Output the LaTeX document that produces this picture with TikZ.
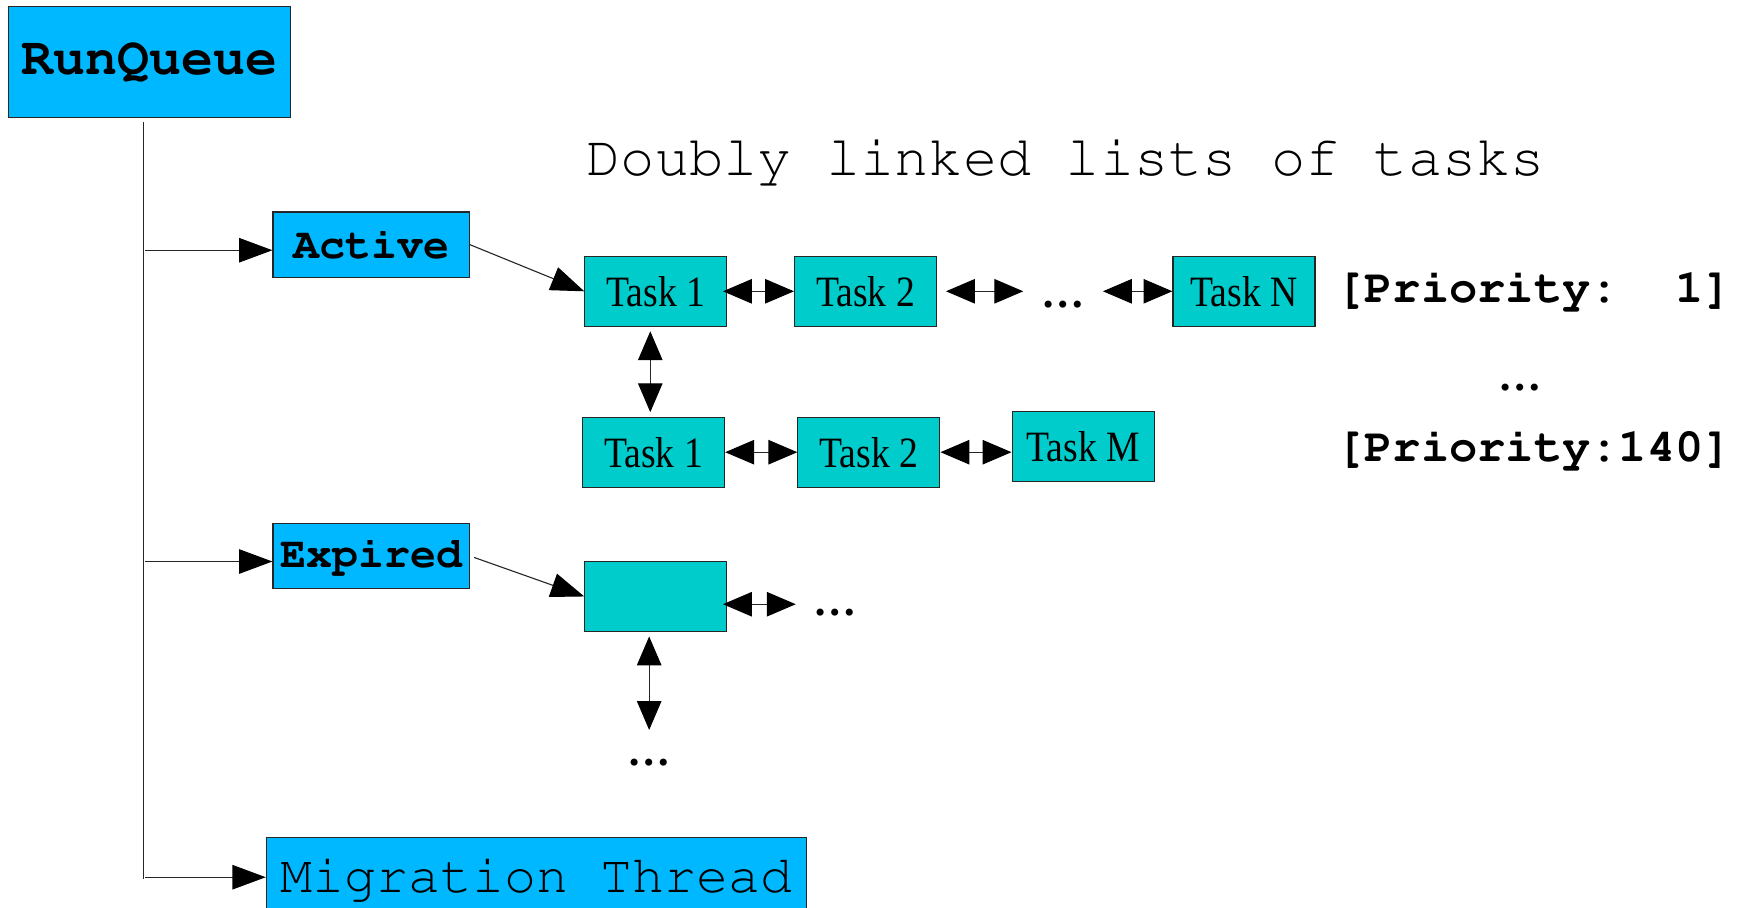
\documentclass[tikz,border=0pt]{standalone}
\usepackage[T1]{fontenc}
\usepackage{fontspec}
\setmainfont{Liberation Serif}
\newfontfamily\taskfont[FakeStretch=0.87]{Liberation Serif}
\newcommand\courfont{\fontencoding{T1}\fontfamily{pcr}\selectfont}
\definecolor{rqblue}{RGB}{0,184,255}
\definecolor{taskcyan}{RGB}{0,204,204}
\usetikzlibrary{positioning,calc,arrows.meta}

\begin{document}
\begin{tikzpicture}
    [x=0.5pt,y=-0.5pt,
      qbox/.style={rectangle,draw=black!85,fill=rqblue,line width=0.5pt,inner sep=0pt},
      task/.style={rectangle,draw=black!85,fill=taskcyan,line width=0.5pt,inner sep=0pt,
        minimum width=64pt,minimum height=31.5pt,font=\taskfont\fontsize{19.5}{20}\selectfont},
      elide/.style={inner xsep=8pt,inner ysep=0pt,anchor=base,font=\bfseries\fontsize{19.5}{20}\selectfont},
      prio/.style={anchor=base west,inner sep=0pt,font=\courfont\bfseries\fontsize{21.2}{22}\selectfont},
      link/.style={black!85,line width=0.5pt,-{Triangle[length=15pt,width=11pt,color=black]}},
      dlink/.style={black!85,line width=0.5pt,
        {Triangle[length=13pt,width=11pt,color=black]}-{Triangle[length=13pt,width=11pt,color=black]}}]

  \useasboundingbox (0,0) rectangle (1568,818);

  \node [qbox,minimum width=127pt,minimum height=50pt,
    font=\courfont\bfseries\fontsize{24}{24}\selectfont] (rq) at (135,56) {RunQueue};
  \node [qbox,minimum width=88.5pt,minimum height=29.5pt,
    font=\courfont\bfseries\fontsize{19.5}{20}\selectfont] (act) at (334.5,220.5) {Active};
  \node [qbox,minimum width=88.5pt,minimum height=29pt,
    font=\courfont\bfseries\fontsize{19.5}{20}\selectfont] (exp) at (334.5,501) {Expired};
  \node [qbox,minimum width=243.5pt,minimum height=37.5pt,
    font=\courfont\fontsize{24}{24}\selectfont] (mig) at (483.5,792.5) {Migration Thread};

  \node [anchor=base,inner sep=0pt,font=\courfont\fontsize{25.7}{26}\selectfont] (title) at (960.5,158)
    {Doubly linked lists of tasks};

  % priority 1 list
  \node [task] (t1a) at (591,262.5) {Task 1};
  \node [task,right=30pt of t1a] (t2a) {Task 2};
  \node [elide] (d1) at (958,277) {\dots};
  \node [task,right=106pt of t2a] (tna) {Task N};

  % last list
  \node [task,below=40.5pt of t1a,xshift=-1pt] (t1b) {Task 1};
  \node [task,right=32.5pt of t1b] (t2b) {Task 2};
  \node [task,right=32pt of t2b,yshift=2.5pt] (tm) {Task M};

  \node [prio] (p1) at (1204,273) {[Priority:\phantom{14}1]};
  \node [elide] (pd) at (1370,352) {\dots};
  \node [prio] (p2) at (1204,416) {[Priority:140]};

  % expired array
  \node [task] (ex1) at (591,537.5) {};
  \node [elide] (ed) at (753,555) {\dots};
  \node [elide] (vd) at (585,690) {\dots};

  \coordinate (trunk) at (129,110);
  \coordinate (trunkend) at (129,792);
  \coordinate (actin) at ([yshift=-2.5pt]act.west);
  \coordinate (expin) at ([yshift=-2.5pt]exp.west);
  \coordinate (migin) at ([yshift=1pt]mig.west);
  \coordinate (exout) at ([yshift=-3.5pt]ex1.east);
  \coordinate (t1down) at ([xshift=-2.5pt]t1a.south);

  \draw [black!85,line width=0.5pt] (trunk) -- (trunkend);
  \draw [link,shorten <=1pt] (trunk |- actin) -- (actin);
  \draw [link,shorten <=1pt] (trunk |- expin) -- (expin);
  \draw [link,shorten <=1pt] (trunk |- migin) -- (migin);

  \draw [link] (act.east) -- (t1a.west);
  \draw [link,shorten <=2pt] (exp.east) -- (ex1.west);

  \draw [dlink,shorten <=-2pt] (t1a) -- (t2a);
  \draw [dlink,shorten <=4pt] (t2a.east) -- (d1.west |- t2a.east);
  \draw [dlink] (d1.east |- tna.west) -- (tna.west);
  \draw [dlink,shorten <=2pt,shorten >=2pt] (t1down) -- (t1down |- t1b.north);

  \draw [dlink] (t1b) -- (t2b);
  \draw [dlink] (t2b.east) -- (t2b.east -| tm.west);

  \draw [dlink,shorten <=-2pt] (exout) -- (ed.west |- exout);
  \draw [dlink,shorten <=2pt,shorten >=13pt] (vd.north |- ex1.south) -- (vd.north);
\end{tikzpicture}
\end{document}
